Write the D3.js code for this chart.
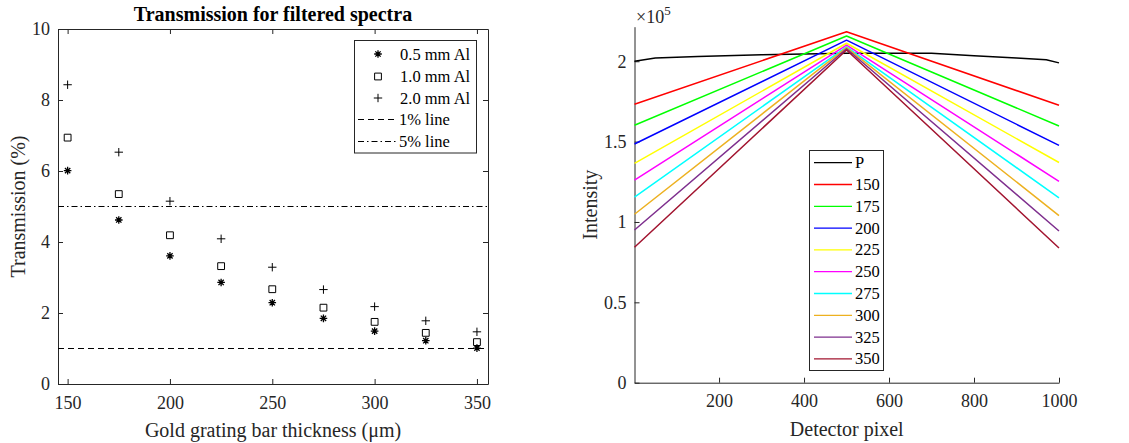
<!DOCTYPE html>
<html>
<head>
<meta charset="utf-8">
<script src="https://cdn.jsdelivr.net/npm/d3@7"></script>
<style>
  body { margin: 0; background: #fff; }
  svg { display: block; font-family: 'Liberation Serif', 'Times New Roman', serif; }
</style>
</head>
<body>
<div id="chart"></div>
<script>
// left panel data
var thickness = [150, 175, 200, 225, 250, 275, 300, 325, 350]
var al05 = [6.01, 4.62, 3.61, 2.86, 2.29, 1.85, 1.49, 1.22, 1.01]
var al10 = [6.94, 5.35, 4.19, 3.32, 2.67, 2.15, 1.75, 1.44, 1.18]
var al20 = [8.43, 6.53, 5.15, 4.09, 3.29, 2.66, 2.18, 1.78, 1.47]
var refLines = [1, 5]
var thicknessTicks = [150, 200, 250, 300, 350]
var transTicks = [0, 2, 4, 6, 8, 10]

// right panel data (intensity in units of 1e5)
var spectraNames = ['P', '150', '175', '200', '225', '250', '275', '300', '325', '350']
var spectraColors = ['#000000', '#ff0000', '#00ff00', '#0000ff', '#ffff00', '#ff00ff', '#00ffff', '#edb120', '#7e2f8e', '#a2142f']
var openPixels = [1, 50, 150, 300, 400, 500, 600, 700, 800, 900, 970, 1000]
var openBeam = [2.00, 2.02, 2.03, 2.04, 2.045, 2.05, 2.05, 2.05, 2.035, 2.02, 2.01, 1.99]
var filtPixels = [1, 500, 1000]
var filtStart = [1.732, 1.602, 1.485, 1.365, 1.261, 1.154, 1.048, 0.950, 0.843]
var filtPeak = [2.184, 2.157, 2.131, 2.112, 2.100, 2.090, 2.085, 2.078, 2.070]
var filtEnd = [1.726, 1.597, 1.477, 1.370, 1.253, 1.150, 1.040, 0.944, 0.838]
var pixelTicks = [200, 400, 600, 800, 1000]
var intensityTicks = [0, 0.5, 1, 1.5, 2]

var W = 1129, H = 443
var axisColor = '#262626'
var svg = d3.select('#chart').append('svg').attr('width', W).attr('height', H)

function styleAxis(g) {
    g.attr('font-family', 'Liberation Serif, serif').attr('font-size', 18)
    g.selectAll('path, line').attr('stroke', axisColor)
    g.selectAll('text').attr('fill', axisColor)
}

// ---------- left panel ----------
var L = {left: 58, right: 488, top: 29, bottom: 384}

var x1 = d3.scaleLinear().domain([145.3, 355.4]).range([L.left, L.right])
var y1 = d3.scaleLinear().domain([0, 10]).range([L.bottom, L.top])

svg.append('g')
    .attr('transform', `translate(0, ${L.bottom})`)
    .call(d3.axisBottom(x1).tickValues(thicknessTicks).tickSizeInner(-5).tickSizeOuter(0).tickPadding(12))
    .call(styleAxis)
svg.append('g')
    .attr('transform', `translate(0, ${L.top})`)
    .call(d3.axisTop(x1).tickValues(thicknessTicks).tickSizeInner(-5).tickSizeOuter(0).tickFormat(''))
    .call(styleAxis)
svg.append('g')
    .attr('transform', `translate(${L.left}, 0)`)
    .call(d3.axisLeft(y1).tickValues(transTicks).tickSizeInner(-5).tickSizeOuter(0).tickPadding(8))
    .call(styleAxis)
svg.append('g')
    .attr('transform', `translate(${L.right}, 0)`)
    .call(d3.axisRight(y1).tickValues(transTicks).tickSizeInner(-5).tickSizeOuter(0).tickFormat(''))
    .call(styleAxis)

// reference lines
var dashes = ['6,4', '6,3,1.5,3']
svg.append('g').selectAll('line')
    .data(refLines)
    .join('line')
        .attr('x1', L.left).attr('x2', L.right)
        .attr('y1', d => y1(d)).attr('y2', d => y1(d))
        .attr('stroke', '#000').attr('stroke-width', 1)
        .attr('stroke-dasharray', (d, i) => dashes[i])

function starPath(s) {
    var d = s * 0.7
    return `M${-s},0L${s},0M0,${-s}L0,${s}M${-d},${-d}L${d},${d}M${-d},${d}L${d},${-d}`
}
function squarePath(s) {
    return `M${-s},${-s}H${s}V${s}H${-s}Z`
}
function plusPath(s) {
    return `M${-s},0L${s},0M0,${-s}L0,${s}`
}

var markerSets = [
    {vals: al05, path: starPath(3.8), w: 1.3, label: '0.5 mm Al'},
    {vals: al10, path: squarePath(3.4), w: 1, label: '1.0 mm Al'},
    {vals: al20, path: plusPath(4.2), w: 1, label: '2.0 mm Al'}
]

markerSets.forEach(function (m) {
    svg.append('g').selectAll('path')
        .data(m.vals)
        .join('path')
            .attr('transform', (d, i) => `translate(${x1(thickness[i])}, ${y1(d)})`)
            .attr('d', m.path)
            .attr('fill', 'none')
            .attr('stroke', '#000')
            .attr('stroke-width', m.w)
})

svg.append('text')
    .attr('x', (L.left + L.right) / 2).attr('y', 21)
    .attr('text-anchor', 'middle')
    .attr('font-weight', 'bold').attr('font-size', 20)
    .text('Transmission for filtered spectra')

svg.append('text')
    .attr('x', (L.left + L.right) / 2).attr('y', 437)
    .attr('text-anchor', 'middle')
    .attr('font-size', 20).attr('fill', axisColor)
    .text('Gold grating bar thickness (μm)')

svg.append('text')
    .attr('transform', `translate(25, ${(L.top + L.bottom) / 2}) rotate(-90)`)
    .attr('text-anchor', 'middle')
    .attr('font-size', 20).attr('fill', axisColor)
    .text('Transmission (%)')

// left legend
var leg1 = svg.append('g')
leg1.append('rect')
    .attr('x', 354.5).attr('y', 40.5).attr('width', 122).attr('height', 112.5)
    .attr('fill', '#fff').attr('stroke', axisColor).attr('stroke-width', 1)
var legRows = [54, 76.5, 98, 119.5, 141.5]
markerSets.forEach(function (m, i) {
    leg1.append('path')
        .attr('transform', `translate(378, ${legRows[i]})`)
        .attr('d', m.path).attr('fill', 'none').attr('stroke', '#000').attr('stroke-width', m.w)
    leg1.append('text')
        .attr('x', 400).attr('y', legRows[i] + 5.5)
        .attr('font-size', 16.5)
        .text(m.label)
})
var lineLabels = ['1% line', '5% line']
lineLabels.forEach(function (t, i) {
    leg1.append('line')
        .attr('x1', 358).attr('x2', 397)
        .attr('y1', legRows[3 + i]).attr('y2', legRows[3 + i])
        .attr('stroke', '#000').attr('stroke-dasharray', dashes[i])
    leg1.append('text')
        .attr('x', 399).attr('y', legRows[3 + i] + 5.5)
        .attr('font-size', 16.5)
        .text(t)
})

// ---------- right panel ----------
var R = {left: 634.5, right: 1059, top: 26.7, bottom: 382.7}

var x2 = d3.scaleLinear().domain([1, 1000]).range([R.left, R.right])
var y2 = d3.scaleLinear().domain([0, 2.215]).range([R.bottom, R.top])

svg.append('g')
    .attr('transform', `translate(0, ${R.bottom})`)
    .call(d3.axisBottom(x2).tickValues(pixelTicks).tickFormat(d3.format('d')).tickSizeInner(-5).tickSizeOuter(0).tickPadding(12))
    .call(styleAxis)
svg.append('g')
    .attr('transform', `translate(${R.left}, 0)`)
    .call(d3.axisLeft(y2).tickValues(intensityTicks).tickFormat(d3.format('~g')).tickSizeInner(-5).tickSizeOuter(0).tickPadding(8))
    .call(styleAxis)

var line = d3.line()
    .x(d => x2(d[0]))
    .y(d => y2(d[1]))

var spectra = [openPixels.map((p, i) => [p, openBeam[i]])]
filtStart.forEach(function (s, i) {
    spectra.push([[filtPixels[0], s], [filtPixels[1], filtPeak[i]], [filtPixels[2], filtEnd[i]]])
})

svg.append('g').selectAll('path')
    .data(spectra)
    .join('path')
        .attr('d', line)
        .attr('fill', 'none')
        .attr('stroke', (d, i) => spectraColors[i])
        .attr('stroke-width', 1.5)
        .attr('stroke-linejoin', 'round')

var expo = svg.append('text')
    .attr('x', 636).attr('y', 23)
    .attr('font-size', 18).attr('fill', axisColor)
expo.append('tspan').text('×10')
expo.append('tspan').attr('font-size', 13).attr('dy', -8).text('5')

svg.append('text')
    .attr('x', (R.left + R.right) / 2).attr('y', 436)
    .attr('text-anchor', 'middle')
    .attr('font-size', 20).attr('fill', axisColor)
    .text('Detector pixel')

svg.append('text')
    .attr('transform', `translate(597, ${(R.top + R.bottom) / 2}) rotate(-90)`)
    .attr('text-anchor', 'middle')
    .attr('font-size', 20).attr('fill', axisColor)
    .text('Intensity')

// right legend
var leg2 = svg.append('g')
leg2.append('rect')
    .attr('x', 809.5).attr('y', 150.5).attr('width', 74).attr('height', 220)
    .attr('fill', '#fff').attr('stroke', axisColor).attr('stroke-width', 1)
spectraNames.forEach(function (n, i) {
    var yy = 162.7 + i * 21.8
    leg2.append('line')
        .attr('x1', 814).attr('x2', 852)
        .attr('y1', yy).attr('y2', yy)
        .attr('stroke', spectraColors[i]).attr('stroke-width', 1.3)
    leg2.append('text')
        .attr('x', 855).attr('y', yy + 5.5)
        .attr('font-size', 16.5)
        .text(n)
})
</script>
</body>
</html>
